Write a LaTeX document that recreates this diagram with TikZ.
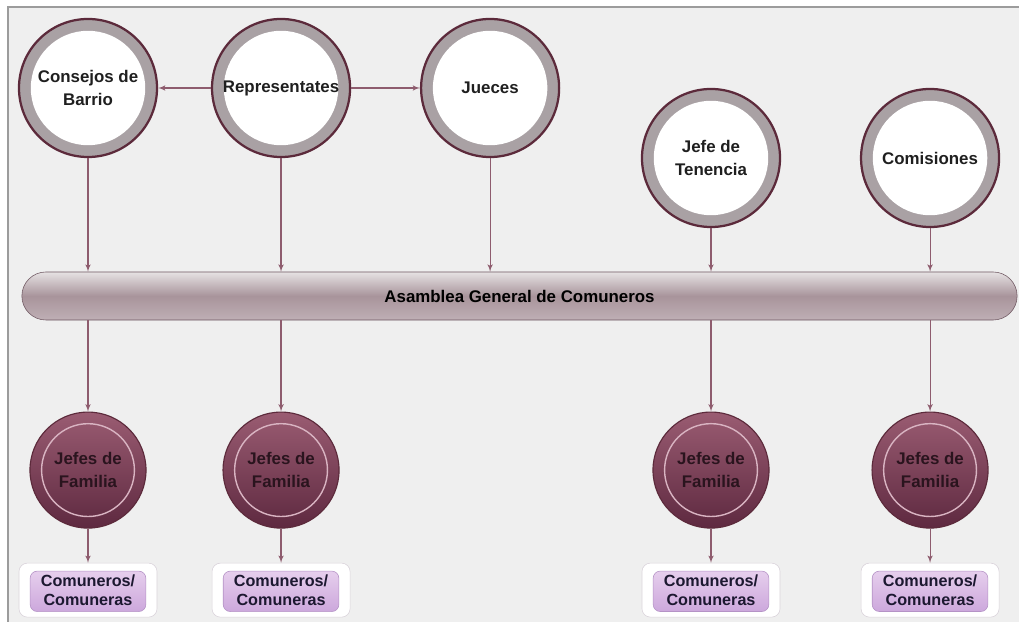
\documentclass[tikz,border=0pt]{standalone}
\usepackage{fontspec}
\setmainfont{Liberation Sans}
\usetikzlibrary{shapes,arrows}

\definecolor{bgGray}{HTML}{EFEFEF}
\definecolor{frameGray}{HTML}{9C9C9C}
\definecolor{maroonEdge}{HTML}{5C2A3B}
\definecolor{ringGray}{HTML}{A9A1A4}
\definecolor{lineMaroon}{HTML}{8E5C6E}
\definecolor{famTop}{HTML}{9A5C72}
\definecolor{famBot}{HTML}{5E2940}
\definecolor{famRing}{HTML}{D9B4C2}
\definecolor{famText}{HTML}{2A141E}
\definecolor{barTop}{HTML}{E6E2E3}
\definecolor{barMid}{HTML}{A8949B}
\definecolor{barBot}{HTML}{BFAFB5}
\definecolor{barEdge}{HTML}{6E5660}
\definecolor{memTop}{HTML}{EBD6F0}
\definecolor{memBot}{HTML}{C9A2DA}
\definecolor{memEdge}{HTML}{B593C6}
\definecolor{memOuter}{HTML}{D9D2DA}
\definecolor{memText}{HTML}{1C1830}

\begin{document}
\begin{tikzpicture}[x=0.025cm, y=-0.025cm, node distance=4.825cm, auto,
    font=\fontsize{12}{16}\selectfont\bfseries]
  \tikzstyle{office} = [circle, draw=maroonEdge, line width=1.6pt, fill=ringGray,
    minimum size=3.45cm, inner sep=0pt, align=center, text=black!88,
    path picture={\fill[white] (path picture bounding box.center) circle (1.43cm);}]
  \tikzstyle{family} = [circle, draw=maroonEdge, line width=0.8pt,
    top color=famTop, bottom color=famBot, minimum size=2.9cm, inner sep=0pt,
    align=center, text=famText,
    path picture={\draw[famRing, line width=1pt] (path picture bounding box.center) circle (1.16cm);}]
  \tikzstyle{member} = [rectangle, rounded corners=6pt, draw=memOuter, fill=white,
    minimum width=3.45cm, minimum height=1.35cm, inner sep=0pt, align=center,
    text=memText, font=\fontsize{11.5}{14}\selectfont\bfseries,
    path picture={\path[top color=memTop, bottom color=memBot, draw=memEdge,
      rounded corners=5pt]
      ([shift={(0.28cm,0.14cm)}]path picture bounding box.south west) rectangle
      ([shift={(-0.28cm,-0.2cm)}]path picture bounding box.north east);}]
  \tikzstyle{assembly} = [rectangle, rounded corners=0.6cm, draw=barEdge,
    top color=barTop, bottom color=barBot, middle color=barMid,
    minimum width=24.875cm, minimum height=1.2cm]
  \tikzstyle{line} = [draw=lineMaroon, line width=0.8pt, -latex']

  % Background
  \useasboundingbox (0,0) rectangle (1019,622);
  \fill [bgGray] (8,7) rectangle (1019,622);
  \draw [frameGray, line width=1pt] (8,622) -- (8,7) -- (1019,7);

  % Place nodes
  \node [office] (barrio) at (88,88) {Consejos de\\Barrio};
  \node [office, right of=barrio] (repr) {Representates};
  \node [office, right of=repr, node distance=5.225cm] (jueces) {Jueces};
  \node [office] (tenencia) at (711,158) {Jefe de\\Tenencia};
  \node [office, right of=tenencia, node distance=5.475cm] (comis) {Comisiones};
  \node [assembly] (asamblea) at (519.5,296) {Asamblea General de Comuneros};
  \node [family, below of=barrio, node distance=9.55cm] (fam1) {Jefes de\\Familia};
  \node [family, below of=repr, node distance=9.55cm] (fam2) {Jefes de\\Familia};
  \node [family, below of=tenencia, node distance=7.8cm] (fam3) {Jefes de\\Familia};
  \node [family, below of=comis, node distance=7.8cm] (fam4) {Jefes de\\Familia};
  \node [member, below of=fam1, node distance=3cm] (com1) {Comuneros/\\Comuneras};
  \node [member, below of=fam2, node distance=3cm] (com2) {Comuneros/\\Comuneras};
  \node [member, below of=fam3, node distance=3cm] (com3) {Comuneros/\\Comuneras};
  \node [member, below of=fam4, node distance=3cm] (com4) {Comuneros/\\Comuneras};

  % Draw edges
  \path [line] (repr) -- (barrio);
  \path [line] (repr) -- (jueces);

  \path [line] (barrio) -- (barrio |- asamblea.north);
  \path [line] (repr) -- (repr |- asamblea.north);
  \path [line] (jueces) -- (jueces |- asamblea.north);
  \path [line] (tenencia) -- (tenencia |- asamblea.north);
  \path [line] (comis) -- (comis |- asamblea.north);

  \path [line] (asamblea.south -| fam1) -- (fam1);
  \path [line] (asamblea.south -| fam2) -- (fam2);
  \path [line] (asamblea.south -| fam3) -- (fam3);
  \path [line] (asamblea.south -| fam4) -- (fam4);

  \path [line] (fam1) -- (com1);
  \path [line] (fam2) -- (com2);
  \path [line] (fam3) -- (com3);
  \path [line] (fam4) -- (com4);
\end{tikzpicture}
\end{document}
